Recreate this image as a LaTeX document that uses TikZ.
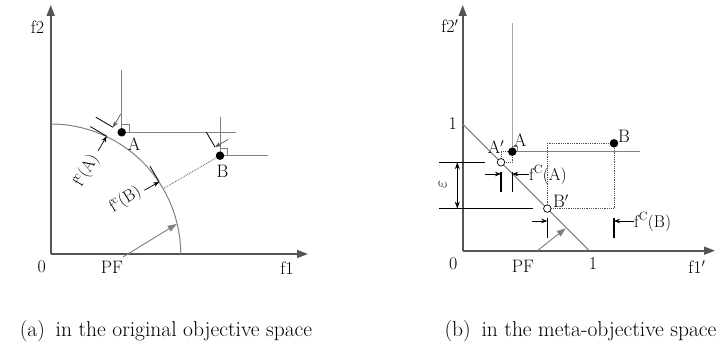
\documentclass[tikz,border=0pt]{standalone}
\usetikzlibrary{arrows.meta}
\definecolor{axgray}{HTML}{555555}
\definecolor{lgray}{HTML}{808080}
\definecolor{vlgray}{HTML}{A8A8A8}
\definecolor{dotgray}{HTML}{505050}
\begin{document}
\begin{tikzpicture}[x=1pt,y=-1pt,
  axis/.style={draw=axgray, line width=1.6pt, -{Triangle[length=11pt,width=8pt]}},
  cone/.style={draw=lgray, line width=0.8pt},
  curvest/.style={draw=lgray, line width=1.0pt},
  garrow/.style={draw=lgray, line width=0.9pt, -{Triangle[length=9pt,width=6.5pt]}, fill=lgray},
  karrow/.style={draw=black, line width=0.7pt, -{Stealth[length=6pt,width=4.5pt]}},
  tick/.style={draw=black, line width=0.8pt},
  dimline/.style={draw=black, line width=1.2pt},
  dotline/.style={draw=dotgray, line width=0.8pt, densely dotted},
  lbl/.style={font=\fontsize{18}{21}\selectfont, inner sep=0pt},
  slbl/.style={font=\fontsize{17}{20}\selectfont, inner sep=0pt},
  captxt/.style={font=\fontsize{21.5}{25}\selectfont, inner sep=0pt, anchor=base},
  fdot/.style={circle, fill=black, inner sep=0pt, minimum size=8.5pt},
  odot/.style={circle, draw=black, fill=white, line width=0.7pt, inner sep=0pt, minimum size=7.5pt}]
\useasboundingbox (0,0) rectangle (724,345);

% ===================== left panel =====================
\coordinate (O1) at (50.7,254);
\coordinate (Y1) at (50.7,5);
\coordinate (X1) at (308,254);
\draw[axis] (O1) -- (Y1);
\draw[axis] (O1) -- (X1);
\draw[curvest] plot[domain=0:90, samples=80, smooth] ({50.7+130*cos(\x)},{254-130*sin(\x)});

% cones
\coordinate (A1top) at (121.7,70);
\coordinate (A1right) at (236,132.3);
\coordinate (B1top) at (220,116.7);
\coordinate (B1right) at (267.7,155.7);
\draw[cone] (A1top) -- (121.7,132.3) -- (A1right);
\draw[cone] (121.7,124.5) -- (129.5,124.5) -- (129.5,132.3);
\draw[cone] (B1top) -- (220,155.7) -- (B1right);
\draw[cone] (220,148) -- (227.8,148) -- (227.8,155.7);

% distance marks for A
\coordinate (PA) at (116.2,141.7);
\coordinate (ua1) at (95.8,117.2);
\coordinate (ua2) at (113.0,127.3);
\coordinate (la1) at (90.3,126.6);
\coordinate (la2) at (106.7,136.2);
\coordinate (uas) at (120.6,114.3);
\coordinate (las) at (98.1,150.9);
\draw[tick] (ua1) -- (ua2);
\draw[tick] (la1) -- (la2);
\draw[karrow, draw=axgray] (uas) -- (ua2);
\draw[karrow] (las) -- (la2);
\node[slbl, rotate=60] (fcA1) at (86.5,170.5) {f$^{\mathrm{c}}$(A)};

% distance marks for B
\coordinate (PB) at (163.1,188.7);
\coordinate (ub1) at (206.4,132.3);
\coordinate (ub2) at (215.0,147.0);
\coordinate (lb1) at (150.0,166.2);
\coordinate (lb2) at (159.1,181.8);
\coordinate (ubs) at (228.0,139.5);
\coordinate (lbs) at (144.4,190.3);
\draw[tick] (ub1) -- (ub2);
\draw[tick] (lb1) -- (lb2);
\draw[karrow, draw=axgray] (ubs) -- (ub2);
\draw[karrow] (lbs) -- (lb2);
\node[slbl, rotate=32] (fcB1) at (125.4,200) {f$^{\mathrm{c}}$(B)};

\node[fdot] (A1) at (121.7,132.3) {};
\node[fdot] (B1) at (220,155.7) {};
\draw[dotline] (B1) -- (PB);
\node[lbl] (A1l) at (134,144) {A};
\node[lbl] (B1l) at (222.5,171.5) {B};

% PF
\node[lbl] (PF1) at (112,267.5) {PF};
\coordinate (PF1tip) at (176.7,224);
\draw[garrow] (123,257) -- (PF1tip);

\node[lbl] (f21) at (37.5,26.7) {f2};
\node[lbl] (f11) at (287,268) {f1};
\node[lbl] (z1) at (41.7,266.7) {0};

% ===================== right panel =====================
\coordinate (O2) at (462.7,250.7);
\coordinate (Y2) at (462.7,5);
\coordinate (X2) at (715,250.7);
\draw[axis] (O2) -- (Y2);
\draw[axis] (O2) -- (X2);
\coordinate (D1) at (462.7,124);
\coordinate (D2) at (589.3,250.7);
\draw[curvest] (D1) -- (D2);

% cone of A
\coordinate (A2top) at (512.3,23.3);
\coordinate (A2right) at (640,151.7);
\draw[draw=vlgray, line width=0.8pt] (A2top) -- (512.3,151.7);
\draw[cone] (512.3,151.7) -- (A2right);
\draw[cone, line width=0.6pt] (512.3,146.5) -- (517,146.5) -- (517,151.7);

% dotted rectangles
\draw[dotline] (501,162.3) rectangle (512.3,151.7);
\draw[dotline] (547.3,208.6) rectangle (614,143.3);

% epsilon
\coordinate (e1a) at (439.3,162.3);
\coordinate (e1b) at (485,162.3);
\coordinate (e2a) at (439.3,208.6);
\coordinate (e2b) at (532.7,208.6);
\draw[dimline, line width=0.9pt] (e1a) -- (e1b);
\draw[dimline, line width=0.9pt] (e2a) -- (e2b);
\draw[draw=black, line width=0.9pt, {Stealth[length=7pt,width=5pt]}-{Stealth[length=7pt,width=5pt]}] (457.3,162.3) -- (457.3,208.6);
\node[lbl, rotate=90] (eps) at (442.7,185) {$\varepsilon$};

% fc(A) marks
\draw[dimline] (501,171.7) -- (501,191.7);
\draw[dimline] (512.3,171.7) -- (512.3,191.7);
\node[slbl, anchor=west] (fcA2) at (529,175) {f$^{\mathrm{C}}$(A)};
\draw[karrow] (485,174) -- (501,174);
\draw[karrow] (fcA2.west |- 0,174) -- (512.3,174);

% fc(B) marks
\draw[dimline] (547.3,218.3) -- (547.3,238.3);
\draw[dimline] (614,218.3) -- (614,238.3);
\node[slbl, anchor=west] (fcB2) at (634,222) {f$^{\mathrm{C}}$(B)};
\draw[karrow] (531.7,221) -- (547.3,221);
\draw[karrow] (fcB2.west |- 0,221) -- (614,221);

% points
\node[fdot] (A2) at (512.3,151.7) {};
\node[fdot] (B2) at (614,143.3) {};
\node[odot] (Ap) at (501,162.3) {};
\node[odot] (Bp) at (547.3,208.6) {};
\node[lbl] (A2l) at (520,140) {A};
\node[lbl] (B2l) at (624,136) {B};
\node[lbl] (Apl) at (496,147) {A$'$};
\node[lbl] (Bpl) at (561,201.5) {B$'$};

% PF
\node[lbl] (PF2) at (523,266.5) {PF};
\coordinate (PF2tip) at (565.7,228.3);
\draw[garrow] (537.3,250.7) -- (PF2tip);

\node[lbl] (f22) at (450,26) {f2$'$};
\node[lbl] (f12) at (697,267) {f1$'$};
\node[lbl] (z2) at (453.3,263.3) {0};
\node[lbl] (one2x) at (593,263.3) {1};
\node[lbl] (one2y) at (452.7,123.7) {1};

% captions
\node[captxt] (capa) at (166,336.5) {(a)\enspace in the original objective space};
\node[captxt] (capb) at (580.5,336.5) {(b)\enspace in the meta-objective space};
\end{tikzpicture}
\end{document}
